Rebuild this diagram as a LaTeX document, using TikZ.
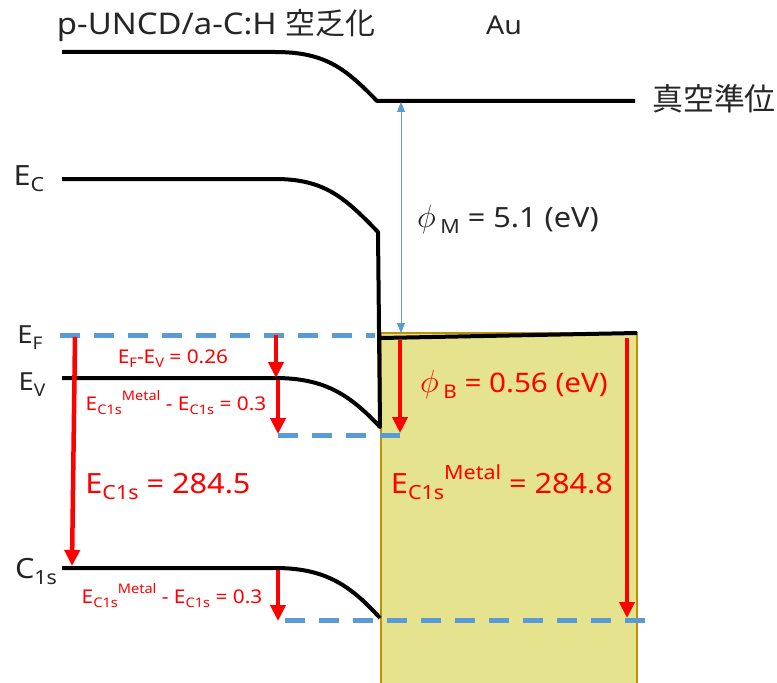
\documentclass[tikz,border=0pt]{standalone}
\usepackage{fontspec}
\usepackage{graphicx}
\setmainfont{Noto Sans}[FakeStretch=1.1]
\newfontfamily\jpfont{Noto Sans CJK JP}
\usetikzlibrary{arrows.meta}
\definecolor{fermic}{RGB}{91,155,213}
\definecolor{metalc}{RGB}{230,227,143}
\definecolor{metaledge}{RGB}{191,144,0}
\definecolor{valc}{RGB}{255,0,0}
\newcommand\lo[1]{\raisebox{-0.25em}{\scalebox{0.7}{#1}}}
\newcommand\hi[1]{\raisebox{0.5em}{\scalebox{0.7}{#1}}}
\newcommand\wf{\scalebox{1.3}{$\phi$}}
\tikzset{
  band/.style     = {line width=4bp, draw=black, line join=round},
  fermi/.style    = {line width=5bp, draw=fermic, dash pattern=on 20bp off 14bp},
  redarr/.style   = {-{Triangle[length=16bp,width=15bp]}, line width=4.5bp, draw=valc},
  vacgap/.style   = {{Triangle[length=10bp,width=8bp]}-{Triangle[length=10bp,width=8bp]},
                     line width=0.8bp, draw=fermic},
  lbl/.style      = {inner sep=0pt, anchor=base, text=black!85},
  redlbl/.style   = {inner sep=0pt, anchor=base, text=valc},
}

\begin{document}
\begin{tikzpicture}[x=1bp, y=-1bp]
\useasboundingbox (0,0) rectangle (777,683);

% ---- metal (Au) ----
\fill[metalc] (381,333) rectangle (637,690);
\draw[metaledge, line width=1.2bp] (381,690) -- (381,333) -- (637,333) -- (637,690);

% ---- reference levels ----
\coordinate (efL) at (60,335);
\coordinate (efR) at (375,335);
\coordinate (evbL) at (278,435);
\coordinate (evbR) at (400,435);
\coordinate (csbL) at (285,620);
\coordinate (csbR) at (645,620);
\draw[fermi] (efL) -- (efR);
\draw[fermi] (evbL) -- (evbR);
\draw[fermi] (csbL) -- (csbR);

% ---- bands ----
\draw[band] (62,52) -- (275,52) .. controls (325,52) and (345,68) .. (377,101) -- (635,101);
\draw[band] (62,179) -- (275,179) .. controls (325,179) and (345,198) .. (378,232)
   -- (380,427) .. controls (350,395) and (325,378) .. (275,378) -- (62,378);
\draw[band] (62,568) -- (275,568) .. controls (325,568) and (350,585) .. (380,618);
\draw[band] (381,338) -- (637,333);

% ---- energies ----
\coordinate (vacM) at (401,102);
\coordinate (efM) at (401,333);
\draw[vacgap] (vacM) -- (efM);
\draw[redarr] (75,337) -- (72,566);
\draw[redarr] (276,335) -- (276,378);
\draw[redarr] (278,380) -- (278,434);
\draw[redarr] (278,570) -- (278,621);
\draw[redarr] (400,340) -- (400,433);
\draw[redarr] (627,338) -- (627,618);

% ---- labels ----
\node[lbl, font=\fontsize{30}{33}\selectfont] (title) at (216,35) {p-UNCD/a-C:H {\jpfont 空乏化}};
\node[lbl, font=\fontsize{26}{30}\selectfont] (au) at (504,35) {Au};
\node[lbl, font=\fontsize{31}{34}\selectfont\jpfont, anchor=center] (vac) at (714,99) {真空準位};
\node[lbl, font=\fontsize{28}{32}\selectfont] (ec) at (29,185) {E\lo{C}};
\node[lbl, font=\fontsize{25}{30}\selectfont] (ef) at (30,343) {E\lo{F}};
\node[lbl, font=\fontsize{25}{30}\selectfont] (ev) at (32,390) {E\lo{V}};
\node[lbl, font=\fontsize{28}{32}\selectfont] (c1s) at (36,578) {C\lo{1s}};
\node[lbl, font=\fontsize{28}{32}\selectfont] (phim) at (508,227) {\wf\,\lo{M} = 5.1 (eV)};
\node[redlbl, font=\fontsize{19}{24}\selectfont] (efev) at (173,363) {E\lo{F}-E\lo{V} = 0.26};
\node[redlbl, font=\fontsize{19}{22}\selectfont] (dcsA) at (176,410) {E\lo{C1s}\hi{Metal} - E\lo{C1s} = 0.3};
\node[redlbl, font=\fontsize{28}{30}\selectfont] (ecs) at (168,493) {E\lo{C1s} = 284.5};
\node[redlbl, font=\fontsize{27}{30}\selectfont] (phib) at (514,392) {\wf\,\lo{B} = 0.56 (eV)};
\node[redlbl, font=\fontsize{28}{32}\selectfont] (ecsm) at (502,493) {E\lo{C1s}\hi{Metal} = 284.8};
\node[redlbl, font=\fontsize{19}{22}\selectfont] (dcsB) at (172,603) {E\lo{C1s}\hi{Metal} - E\lo{C1s} = 0.3};

\end{tikzpicture}
\end{document}
